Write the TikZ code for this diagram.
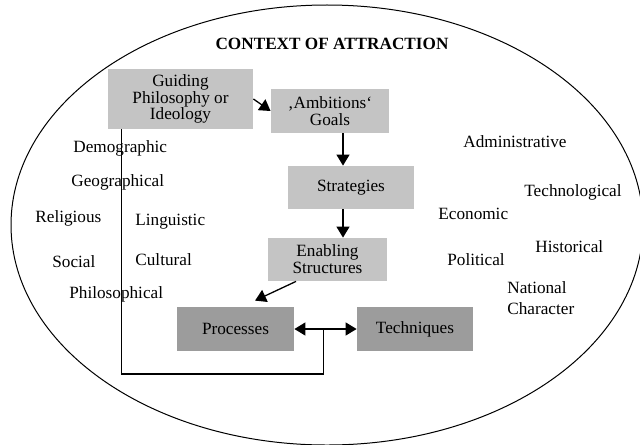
\documentclass[tikz,border=0pt]{standalone}
\usepackage{fontspec}
\setmainfont{Liberation Serif}
\usepackage{xcolor}
\usetikzlibrary{arrows.meta,calc}
\definecolor{boxlight}{HTML}{C4C4C4}
\definecolor{boxdark}{HTML}{9C9C9C}

\begin{document}
\begin{tikzpicture}[
    x=0.5pt, y=-0.5pt,
    font=\fontsize{8.6}{8.4}\selectfont,
    box/.style={align=center, inner sep=0pt},
    light/.style={box, fill=boxlight},
    dark/.style={box, fill=boxdark},
    factor/.style={anchor=west, inner sep=0pt},
    tip/.style={Triangle[length=5.5pt, width=6.5pt]},
    arr/.style={-{Triangle[length=5.5pt, width=6.5pt]}, line width=0.65pt},
    ]
\useasboundingbox (0,0) rectangle (640,444);
\draw[line width=0.5pt] (327,225) ellipse [x radius=158pt, y radius=110pt];

\node[font=\fontsize{8.6}{8.4}\selectfont\bfseries] (title) at (332,44) {CONTEXT OF ATTRACTION};

\node[light, minimum width=72.5pt, minimum height=30pt] (guide) at (180.5,99) {Guiding\\Philosophy or\\Ideology};
\node[light, minimum width=59pt, minimum height=22pt] (goals) at (330,111) {‚Ambitions‘\\Goals};
\node[light, minimum width=63pt, minimum height=21.5pt] (strat) at (351,187.5) {Strategies};
\node[light, minimum width=59.5pt, minimum height=21.5pt] (enab) at (327.5,259.5) {Enabling\\Structures};
\node[dark, minimum width=58.5pt, minimum height=22pt] (proc) at (235.5,329) {Processes};
\node[dark, minimum width=58pt, minimum height=22pt] (tech) at (415,329) {Techniques};

% factors on the left
\node[factor] (demo) at (73,148) {Demographic};
\node[factor] (geo) at (71,182) {Geographical};
\node[factor] (relig) at (35,218) {Religious};
\node[factor] (ling) at (135,222) {Linguistic};
\node[factor] (soc) at (52,262) {Social};
\node[factor] (cult) at (135,260) {Cultural};
\node[factor] (philo) at (69,294) {Philosophical};

% factors on the right
\node[factor] (admin) at (463,142) {Administrative};
\node[factor] (techno) at (524,192) {Technological};
\node[factor] (econ) at (438,214) {Economic};
\node[factor] (hist) at (535,247) {Historical};
\node[factor] (polit) at (447,260) {Political};
\node[factor, align=left, font=\fontsize{8.6}{10.5}\selectfont] (natl) at (507,298) {National\\Character};

\draw[arr] (guide.east) -- (goals.west);
\draw[arr] ([xshift=6.5pt]goals.south) -- ([xshift=6.5pt]goals.south |- strat.north);
\draw[arr] ([xshift=-4pt]strat.south) -- ([xshift=-4pt]strat.south |- enab.north);
\draw[arr] ([xshift=-15.75pt]enab.south) -- ([xshift=9.75pt,yshift=3pt]proc.north);
\draw[{Triangle[length=5.5pt, width=6.5pt]}-{Triangle[length=5.5pt, width=6.5pt]}, line width=0.65pt] (proc.east) -- (tech.west);

% feedback loop
\coordinate (j) at ($(proc.east)!.47!(tech.west)$);
\draw[line width=0.65pt] (j) |- (121.7,374) coordinate (corner) -- (corner |- guide.south);
\end{tikzpicture}
\end{document}
